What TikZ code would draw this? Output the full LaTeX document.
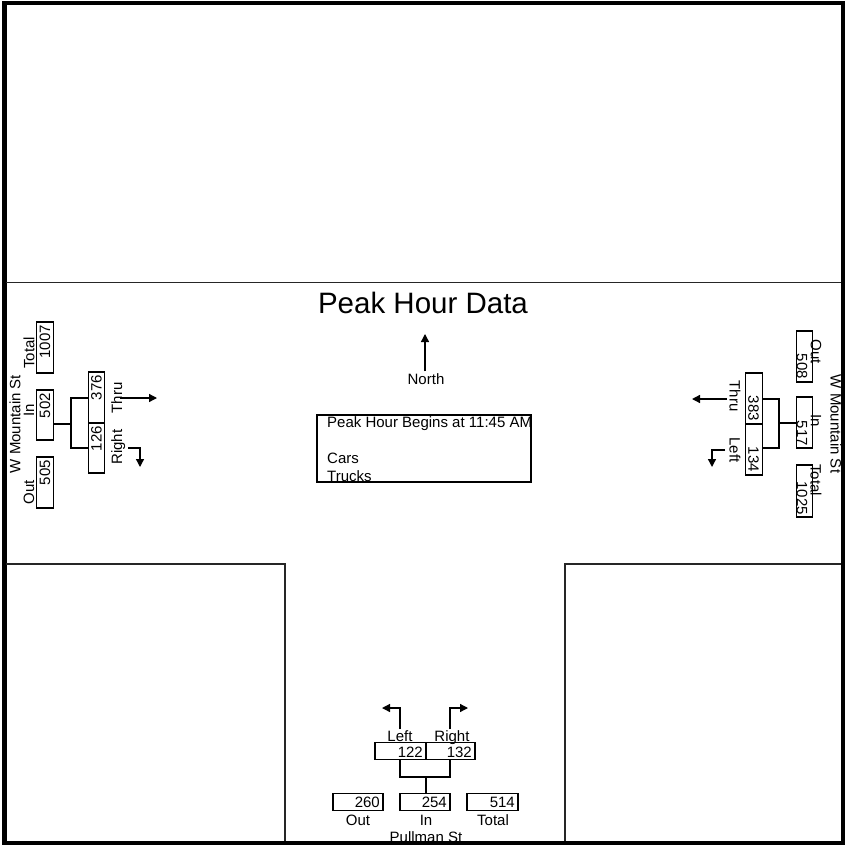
\documentclass[tikz,border=0pt]{standalone}
\usepackage{fontspec}
\setmainfont{Liberation Sans}
\usetikzlibrary{arrows.meta}
\begin{document}
\begin{tikzpicture}[x=1pt,y=-1pt,
  ln/.style={line width=1.3pt},
  road/.style={line width=1.2pt, draw=black!85},
  box/.style={draw, line width=1.3pt, inner sep=0pt, rectangle},
  vbox/.style={box, minimum width=16.5pt, minimum height=51pt},
  hbox/.style={box, minimum width=50pt, minimum height=17pt},
  lbl/.style={inner sep=0pt, font=\fontsize{15}{16}\selectfont},
  arr/.style={line width=1.3pt, -{Triangle[length=8pt,width=8pt]}},
]
\useasboundingbox (0,0) rectangle (845,845);
% frame
\draw[line width=3.5pt] (4,3) rectangle (843,843);
\draw[line width=2pt] (6,3) -- (6,843);
% road edges
\draw[road] (6,282.5) -- (841,282.5);
\draw[road] (6,564) -- (285,564) -- (285,841);
\draw[road] (841,564) -- (565,564) -- (565,841);

% title and north arrow
\node[inner sep=0pt, font=\fontsize{29.5}{31}\selectfont] (title) at (423,303) {Peak Hour Data};
\node[lbl] (north) at (426,379) {North};
\coordinate (ntip) at (425,334);
\draw[arr] (north.north -| ntip) ++(0,-2) -- (ntip);

% info box
\node[box, minimum width=214pt, minimum height=67pt] (info) at (424,448.5) {};
\node[lbl, anchor=west] (info1) at (327,424) {Peak Hour Begins at 11:45 AM};
\node[lbl, anchor=west] (info2) at (327,458) {Cars};
\node[lbl, anchor=west] (info3) at (327,476) {Trucks};

% ---------- west approach (W Mountain St, left) ----------
\node[lbl, rotate=90] (wName) at (15,424) {W Mountain St};
\node[vbox] (wTot) at (45,347.5) {};
\node[lbl, rotate=90, anchor=east] (wTotN) at (45,325) {1007};
\node[lbl, rotate=90] (wTotL) at (29,353) {Total};
\node[vbox, minimum height=50pt] (wIn) at (45,415) {};
\node[lbl, rotate=90, anchor=east] (wInN) at (45,393) {502};
\node[lbl, rotate=90] (wInL) at (29,410) {In};
\node[vbox] (wOut) at (45,482.5) {};
\node[lbl, rotate=90, anchor=east] (wOutN) at (45,460) {505};
\node[lbl, rotate=90] (wOutL) at (29,492) {Out};
\node[vbox] (wThru) at (96.5,397.5) {};
\node[lbl, rotate=90, anchor=east] (wThruN) at (96.5,375) {376};
\node[vbox, minimum height=50pt] (wRight) at (96.5,448) {};
\node[lbl, rotate=90, anchor=east] (wRightN) at (96.5,426) {126};
\node[lbl, rotate=90, anchor=base] (wThruL) at (122,398) {Thru};
\node[lbl, rotate=90, anchor=base] (wRightL) at (122,447) {Right};
\coordinate (wJ) at (71,424);
\coordinate (wJa) at (71,398);
\coordinate (wJb) at (71,448);
\draw[ln] (wIn.east |- wJ) -- (wJ);
\draw[ln] (wThru.west |- wJa) -- (wJa) -- (wJb) -- (wRight.west |- wJb);
\coordinate (wThruS) at (120,398);
\coordinate (wThruE) at (157,398);
\draw[arr] (wThruS) -- (wThruE);
\coordinate (wRS) at (128,448);
\coordinate (wRE) at (140,467);
\draw[arr] (wRS) -| (wRE);

% ---------- east approach (W Mountain St, right) ----------
\node[lbl, rotate=-90] (eName) at (836,424) {W Mountain St};
\node[vbox] (eOut) at (804.5,356.5) {};
\node[lbl, rotate=-90, anchor=east] (eOutN) at (802,379) {508};
\node[lbl, rotate=-90] (eOutL) at (816,352) {Out};
\node[vbox] (eIn) at (804.5,422.5) {};
\node[lbl, rotate=-90, anchor=east] (eInN) at (802,446) {517};
\node[lbl, rotate=-90] (eInL) at (816,421) {In};
\node[vbox, minimum height=52pt] (eTot) at (804.5,491) {};
\node[lbl, rotate=-90, anchor=east] (eTotN) at (802,515) {1025};
\node[lbl, rotate=-90] (eTotL) at (816,480) {Total};
\node[vbox] (eThru) at (754,398.5) {};
\node[lbl, rotate=-90, anchor=east] (eThruN) at (753.5,421) {383};
\node[vbox] (eLeft) at (754,449.5) {};
\node[lbl, rotate=-90, anchor=east] (eLeftN) at (753.5,472) {134};
\node[lbl, rotate=-90] (eThruL) at (735,396) {Thru};
\node[lbl, rotate=-90] (eLeftL) at (735,450) {Left};
\coordinate (eJ) at (779,423);
\coordinate (eJa) at (779,399);
\coordinate (eJb) at (779,448);
\draw[ln] (eIn.west |- eJ) -- (eJ);
\draw[ln] (eThru.east |- eJa) -- (eJa) -- (eJb) -- (eLeft.east |- eJb);
\coordinate (eThruS) at (727,399);
\coordinate (eThruE) at (692,399);
\draw[arr] (eThruS) -- (eThruE);
\coordinate (eLS) at (725,450);
\coordinate (eLE) at (712,467);
\draw[arr] (eLS) -| (eLE);

% ---------- south approach (Pullman St) ----------
\node[hbox, minimum width=51pt] (sLeft) at (400.5,751) {};
\node[lbl, anchor=east] (sLeftN) at (423,752) {122};
\node[hbox, minimum width=49pt] (sRight) at (450.5,751) {};
\node[lbl, anchor=east] (sRightN) at (472,752) {132};
\node[lbl, anchor=base] (sLeftL) at (400,741.5) {Left};
\node[lbl, anchor=base] (sRightL) at (452,741.5) {Right};
\node[hbox] (sOut) at (358,802) {};
\node[lbl, anchor=east] (sOutN) at (380,802) {260};
\node[hbox] (sIn) at (425,802) {};
\node[lbl, anchor=east] (sInN) at (447,802) {254};
\node[hbox, minimum width=51pt] (sTot) at (492.5,802) {};
\node[lbl, anchor=east] (sTotN) at (515,802) {514};
\node[lbl] (sOutL) at (358,820) {Out};
\node[lbl] (sInL) at (426,820) {In};
\node[lbl] (sTotL) at (493,820) {Total};
\node[lbl] (sName) at (426,837) {Pullman St};
\coordinate (sJa) at (400,777);
\coordinate (sJb) at (450,777);
\coordinate (sJ) at (426,777);
\draw[ln] (sLeft.south -| sJa) -- (sJa) -- (sJb) -- (sRight.south -| sJb);
\draw[ln] (sJ) -- (sIn.north -| sJ);
\coordinate (sLS) at (400,729);
\coordinate (sLE) at (382,708);
\draw[arr] (sLS) |- (sLE);
\coordinate (sRS) at (450,729);
\coordinate (sRE) at (468,708);
\draw[arr] (sRS) |- (sRE);
% redraw frame bottom over text
\draw[line width=3.5pt] (4,843) -- (843,843);
\end{tikzpicture}
\end{document}
